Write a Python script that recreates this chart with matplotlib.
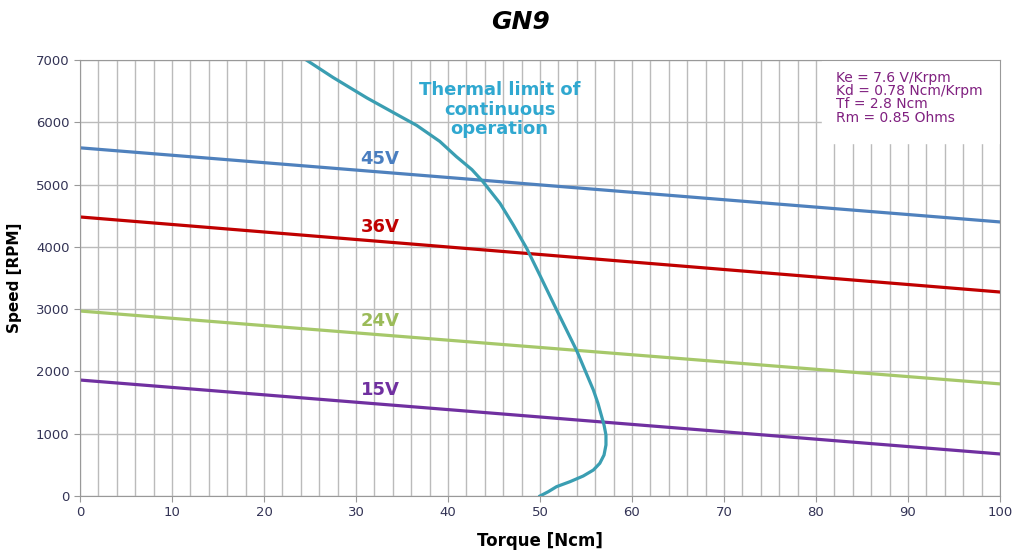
import numpy as np
import matplotlib
matplotlib.use("Agg")
import matplotlib.pyplot as plt
from matplotlib.ticker import MultipleLocator

# Datos
torque_ends = [0, 100]
v45 = [5590, 4400]
v36 = [4480, 3275]
v24 = [2970, 1800]
v15 = [1862, 675]

# Limite termico de operacion continua
thermal_t = [24.6, 27.5, 31.2, 34.8, 36.6, 39.1, 40.9, 42.6, 43.8, 45.65,
             47.1, 48.55, 50.0, 51.8, 54.0, 55.8, 56.3, 56.96, 57.17, 57.17,
             56.96, 56.5, 55.8, 54.7, 53.26, 51.8, 50.9, 50.0]
thermal_s = [7000, 6720, 6390, 6096, 5950, 5694, 5450, 5240, 5046, 4700,
             4351, 3977, 3540, 2990, 2330, 1702, 1488, 1140, 979, 819,
             658, 525, 417, 321, 230, 150, 69, 0]

textcol = "#333355"

fig = plt.figure(figsize=(10.16, 5.56), dpi=100)
ax = fig.add_axes([80/1016, 60/556, 920/1016, 436/556])

ax.set_xlim(0, 100)
ax.set_ylim(0, 7000)
ax.xaxis.set_major_locator(MultipleLocator(10))
ax.xaxis.set_minor_locator(MultipleLocator(2))
ax.yaxis.set_major_locator(MultipleLocator(1000))
ax.grid(which="both", axis="x", color="#BBBBBB", lw=1)
ax.grid(which="major", axis="y", color="#BBBBBB", lw=1)
ax.set_axisbelow(True)
ax.tick_params(which="major", direction="out", length=4, color="#999999",
               labelsize=9.5, labelcolor=textcol)
ax.tick_params(which="minor", length=0)
for s in ax.spines.values():
    s.set_color("#999999")

# Recuadro de parametros
ax.fill_between([80.6, 100], 5670, 7000, color="white", zorder=1.5)
ax.text(82.2, 6830, "Ke = 7.6 V/Krpm\nKd = 0.78 Ncm/Krpm\nTf = 2.8 Ncm\nRm = 0.85 Ohms",
        fontsize=10, color="#802080", va="top", ha="left", linespacing=0.95, zorder=3)

ax.plot(torque_ends, v45, color="#4F81BD", lw=2.3, zorder=2)
ax.plot(torque_ends, v36, color="#C00000", lw=2.3, zorder=2)
ax.plot(torque_ends, v24, color="#A6C86A", lw=2.3, zorder=2)
ax.plot(torque_ends, v15, color="#7030A0", lw=2.3, zorder=2)
ax.plot(thermal_t, thermal_s, color="#3A9EB2", lw=2.3, zorder=2.5,
        solid_joinstyle="round")

ax.text(32.6, 5410, "45V", color="#4A7EC0", fontsize=13, fontweight="bold", ha="center", va="center")
ax.text(32.6, 4318, "36V", color="#C00000", fontsize=13, fontweight="bold", ha="center", va="center")
ax.text(32.6, 2810, "24V", color="#9BBB59", fontsize=13, fontweight="bold", ha="center", va="center")
ax.text(32.6, 1702, "15V", color="#7030A0", fontsize=13, fontweight="bold", ha="center", va="center")
ax.text(45.6, 6200, "Thermal limit of\ncontinuous\noperation", color="#30A8D0",
        fontsize=13, fontweight="bold", ha="center", va="center", linespacing=1.1)

ax.set_xlabel("Torque [Ncm]", fontsize=12, fontweight="bold", labelpad=9)
ax.set_ylabel("Speed [RPM]", fontsize=11, fontweight="bold", labelpad=10)
fig.text(0.512, 0.96, "GN9", fontsize=18, fontweight="bold", style="italic",
         ha="center", va="center")

plt.savefig("out.png")
